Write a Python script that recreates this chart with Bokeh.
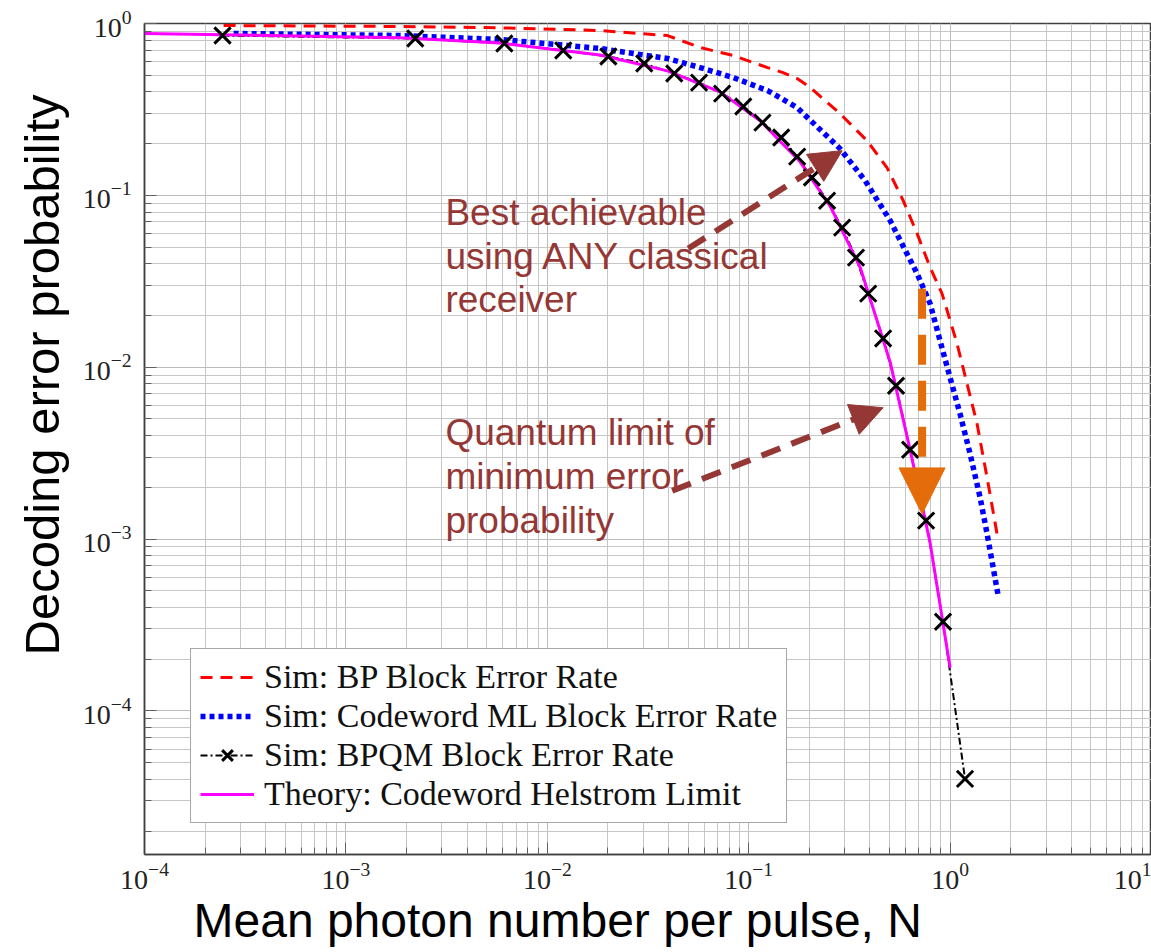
import math
from bokeh.plotting import figure
from bokeh.models import (Range1d, Legend, LegendItem, Label, Arrow, NormalHead,
                          Title)
from bokeh.embed import file_html
from bokeh.resources import INLINE

# ---------------- data ----------------
bp_x = [2.47e-4, 1.86e-3, 5.85e-3, 0.0183, 0.0395, 0.0574, 0.0837, 0.124, 0.148,
        0.174, 0.202, 0.284, 0.387, 0.486, 0.585, 0.686, 0.796, 0.912, 1.083,
        1.214, 1.361, 1.527, 1.711]
bp_y = [0.973, 0.961, 0.944, 0.910, 0.851, 0.725, 0.651, 0.554, 0.518,
        0.478, 0.424, 0.299, 0.208, 0.145, 0.0932, 0.0599, 0.0380, 0.0268, 0.0137,
        0.00801, 0.00469, 0.00227, 0.00107]

ml_x = [2.77e-4, 1.86e-3, 5.85e-3, 0.0126, 0.0183, 0.0267, 0.0395, 0.0574, 0.0837,
        0.124, 0.174, 0.284, 0.378, 0.504, 0.686, 0.796, 0.891, 1.0, 1.12, 1.257,
        1.41, 1.527, 1.73]
ml_y = [0.875, 0.851, 0.807, 0.745, 0.715, 0.669, 0.626, 0.554, 0.485,
        0.407, 0.324, 0.187, 0.122, 0.0713, 0.0350, 0.0234, 0.0143, 0.00869, 0.00536,
        0.00313, 0.00174, 0.00107, 4.73e-4]

bpqm_x = [2.44e-4, 2.21e-3, 6.12e-3, 0.0120, 0.0201, 0.0303, 0.0427, 0.0567, 0.0738,
          0.094, 0.117, 0.145, 0.174, 0.206, 0.245, 0.291, 0.341, 0.392, 0.465,
          0.539, 0.633, 0.760, 0.922, 1.186]
bpqm_y = [0.851, 0.818, 0.765, 0.697, 0.643, 0.585, 0.512, 0.453, 0.391,
          0.329, 0.265, 0.217, 0.168, 0.127, 0.0931, 0.0649, 0.0434, 0.0268, 0.0147,
          0.00780, 0.00331, 0.00128, 3.30e-4, 4.02e-5]

th_x = [1e-4, 2.44e-4, 1.86e-3, 5.85e-3, 0.0183, 0.0395, 0.0720, 0.114, 0.179,
        0.256, 0.358, 0.504, 0.633, 0.796, 1.0]
th_y = [0.875, 0.860, 0.825, 0.770, 0.655, 0.530, 0.400, 0.272, 0.158,
        0.085, 0.038, 0.0107, 3.3e-3, 9.5e-4, 1.78e-4]

labels = ["Sim: BP Block Error Rate",
          "Sim: Codeword ML Block Error Rate",
          "Sim: BPQM Block Error Rate",
          "Theory: Codeword Helstrom Limit"]

x_title = "Mean photon number per pulse, N"
y_title = "Decoding error probability"
note_classical = "Best achievable\nusing ANY classical\nreceiver"
note_quantum = "Quantum limit of\nminimum error\nprobability"

# annotation anchor values (data coordinates)
arrow1 = dict(x0=0.0501, y0=0.0490, x1=0.291, y1=0.182)
arrow2 = dict(x0=0.0417, y0=1.91e-3, x1=0.465, y1=5.81e-3)
arrow3 = dict(x0=0.726, y0=0.0286, x1=0.726, y1=1.40e-3)

BROWN = "#953735"
ORANGE = "#E46C0A"

p = figure(width=1151, height=952, x_axis_type="log", y_axis_type="log",
           x_range=Range1d(1e-4, 1e1), y_range=Range1d(1.46e-5, 1.0),
           output_backend="svg", toolbar_location=None,
           min_border_left=144, min_border_top=23, min_border_bottom=98,
           min_border_right=0)
p.background_fill_color = "white"
p.border_fill_color = "white"
p.outline_line_color = "#404040"
p.outline_line_width = 1.5

for g in (p.xgrid, p.ygrid):
    g.grid_line_color = "#bcbcbc"
    g.grid_line_width = 1
    g.minor_grid_line_color = "#c6c6c6"
    g.minor_grid_line_width = 1

for ax in (p.xaxis, p.yaxis):
    ax.axis_line_color = "#404040"
    ax.axis_line_width = 1.5
    ax.major_tick_in = 12
    ax.major_tick_out = 0
    ax.minor_tick_in = 7
    ax.minor_tick_out = 0
    ax.major_tick_line_color = "#606060"
    ax.minor_tick_line_color = "#606060"
    ax.major_label_text_font = "Liberation Serif"
    ax.major_label_text_font_size = "28px"
    ax.major_label_text_color = "#222222"

p.xaxis.major_label_standoff = 8
p.yaxis.major_label_standoff = 13

# axis titles
ytitle = Title(text=y_title, align="left", offset=199, standoff=22,
               text_font="Liberation Sans", text_font_size="49px",
               text_font_style="normal", text_color="black")
p.add_layout(ytitle, "left")
xtitle = Title(text=x_title, align="left", offset=49, standoff=0,
               text_font="Liberation Sans", text_font_size="48px",
               text_font_style="normal", text_color="black")
p.add_layout(xtitle, "below")

# ---------------- series ----------------
r_bp = p.line(bp_x, bp_y, line_color="#ff0000", line_width=3, line_dash="12 8")
r_ml = p.line(ml_x, ml_y, line_color="#0000ff", line_width=5.5, line_dash="5 4")
r_bq_line = p.line(bpqm_x, bpqm_y, line_color="black", line_width=2,
                   line_dash="7 3 2 3")
r_th = p.line(th_x, th_y, line_color="#ff00ff", line_width=3)
r_bq_pts = p.scatter(bpqm_x, bpqm_y, marker="x", size=23, line_color="black",
                     line_width=3)

legend = Legend(items=[
    LegendItem(label=labels[0], renderers=[r_bp]),
    LegendItem(label=labels[1], renderers=[r_ml]),
    LegendItem(label=labels[2], renderers=[r_bq_line, r_bq_pts]),
    LegendItem(label=labels[3], renderers=[r_th]),
], location=(46, 31))
legend.label_text_font = "Liberation Serif"
legend.label_text_font_size = "34px"
legend.label_text_color = "#111111"
legend.glyph_width = 54
legend.glyph_height = 38
legend.label_height = 38
legend.spacing = 1
legend.padding = 9
legend.margin = 0
legend.label_standoff = 10
legend.border_line_color = "#505050"
legend.border_line_width = 1.5
legend.background_fill_color = "white"
legend.background_fill_alpha = 1.0
p.add_layout(legend)

# ---------------- annotations ----------------
def add_arrow(a, color, width, dash, head):
    p.add_layout(Arrow(x_start=a["x0"], y_start=a["y0"], x_end=a["x1"], y_end=a["y1"],
                       line_color=color, line_width=width, line_dash=dash,
                       end=NormalHead(size=head, fill_color=color, line_color=color,
                                      line_width=1)))

add_arrow(arrow1, BROWN, 6, "20 12", 32)
add_arrow(arrow2, BROWN, 6, "20 12", 32)
add_arrow(arrow3, ORANGE, 8, "30 16", 46)

p.add_layout(Label(x=3.12e-3, y=0.105, text=note_classical,
                   text_font="Liberation Sans", text_font_size="37px",
                   text_color=BROWN, text_align="left", text_baseline="top",
                   text_line_height=1.07))
p.add_layout(Label(x=3.12e-3, y=5.5e-3, text=note_quantum,
                   text_font="Liberation Sans", text_font_size="37px",
                   text_color=BROWN, text_align="left", text_baseline="top",
                   text_line_height=1.07))

open("out.html", "w").write(file_html(p, INLINE))
